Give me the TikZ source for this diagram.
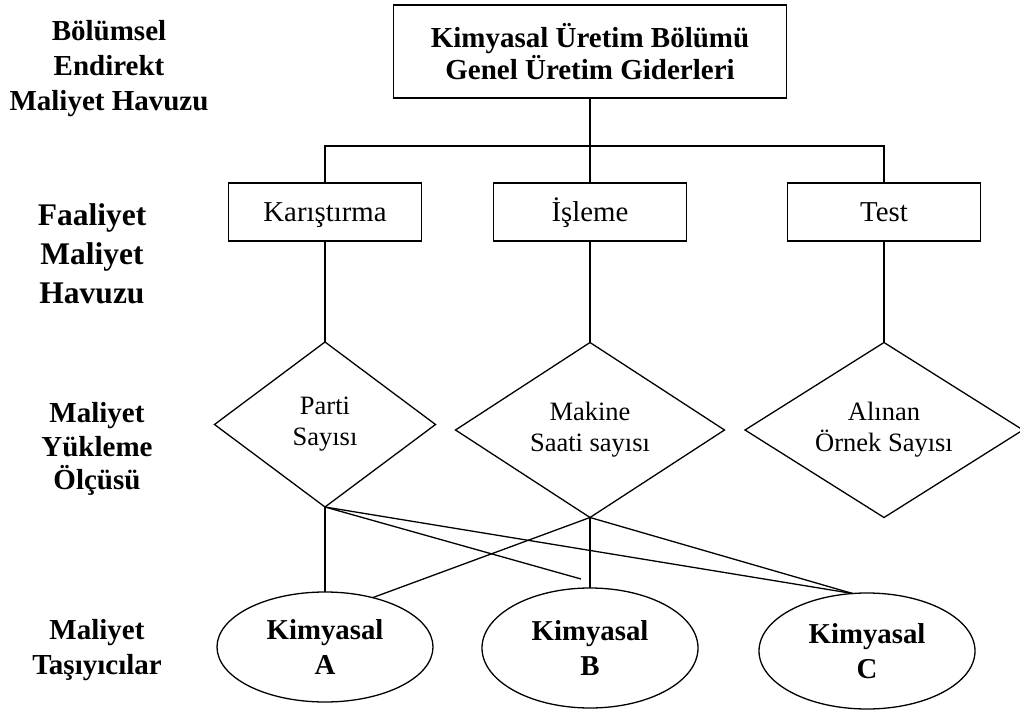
\documentclass[tikz,border=0pt]{standalone}
\usepackage{fontspec}
\setmainfont{Liberation Serif}
\usetikzlibrary{shapes.geometric}
\begin{document}
\begin{tikzpicture}[x=1pt,y=-1pt,
  every node/.style={inner sep=0pt, outer sep=0pt},
  conn/.style={line width=1.3pt},
  poolbox/.style={draw, line width=1.4pt, minimum width=193pt, minimum height=58pt,
    text height=20pt, text depth=0pt, font=\fontsize{28.8}{32}\selectfont},
  driver/.style={draw, diamond, aspect=1.55, line width=1.3pt, align=center,
    font=\fontsize{26.5}{31}\selectfont},
  product/.style={draw, ellipse, line width=1.3pt, align=center, minimum width=216pt,
    font=\bfseries\fontsize{28.8}{35}\selectfont},
  level/.style={align=center, font=\bfseries\fontsize{29}{35}\selectfont}]
\useasboundingbox (0,0) rectangle (1020,711);

% level captions on the left
\node[level] (l1) at (109,69) {Bölümsel\\Endirekt\\Maliyet Havuzu};
\node[level, font=\bfseries\fontsize{31.5}{39}\selectfont] (l2) at (92,254) {Faaliyet\\Maliyet\\Havuzu};
\node[level, font=\bfseries\fontsize{29}{33.5}\selectfont] (l3) at (97,449) {Maliyet\\Yükleme\\Ölçüsü};
\node[level] (l4) at (97,650) {Maliyet\\Taşıyıcılar};

% department overhead pool
\node[draw, line width=1.4pt, minimum width=393pt, minimum height=93pt, align=center,
  font=\bfseries\fontsize{29}{30}\selectfont] (pool) at (590,51.5)
  {Kimyasal Üretim Bölümü\\Genel Üretim Giderleri};

% activity cost pools
\node[poolbox] (kar) at (325,212) {Karıştırma};
\node[poolbox] (isl) at (590,212) {İşleme};
\node[poolbox] (test) at (884,212) {Test};

% cost drivers
\node[driver, minimum width=221pt, minimum height=165pt] (parti) at (325,424.5) {Parti\\Sayısı};
\node[driver, minimum width=269pt, minimum height=175pt] (makine) at (590,430) {Makine\\Saati sayısı};
\node[driver, minimum width=278pt, minimum height=175pt] (ornek) at (884,430) {Alınan\\Örnek Sayısı};

% cost objects
\node[product, minimum height=110pt] (A) at (325,647) {Kimyasal\\A};
\node[product, minimum height=120pt] (B) at (590,648) {Kimyasal\\B};
\node[product, minimum height=116pt] (C) at (867,651) {Kimyasal\\C};

% tree connectors
\draw[conn] (pool.south) -- (isl.north);
\draw[conn] (kar.north) -- ++(0,-37) -| (test.north);
\draw[conn] (kar.south) -- (parti.north);
\draw[conn] (isl.south) -- (makine.north);
\draw[conn] (test.south) -- (ornek.north);

% driver allocations
\coordinate (pend) at (581,579);
\draw[conn] (parti.south) -- (A.north);
\draw[conn] (parti.south) -- (pend);
\draw[conn] (parti.south) -- (C.104);
\draw[conn] (makine.south) -- (B.north);
\draw[conn] (makine.south) -- (A.46);
\draw[conn] (makine.south) -- (C.104);
\end{tikzpicture}
\end{document}
